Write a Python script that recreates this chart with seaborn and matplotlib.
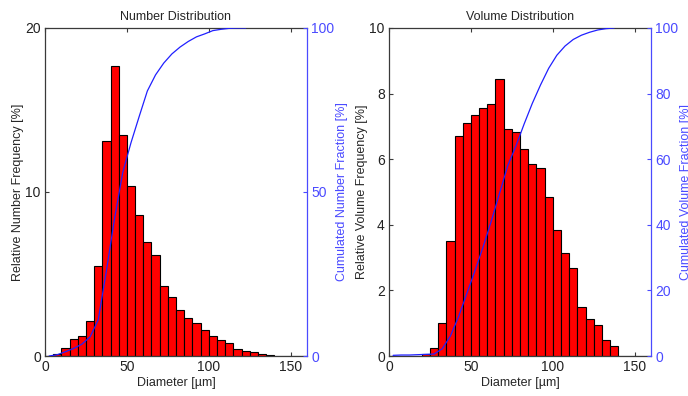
import numpy as np
import pandas as pd
import matplotlib
matplotlib.use("Agg")
import matplotlib.pyplot as plt
import seaborn as sns

# ---- data ----
bin_width = 5
# number distribution: bins [5,10] ... [135,140]
num_bin_start = list(range(5, 140, 5))
num_freq = [0.12, 0.47, 1.06, 1.24, 2.16, 5.51, 13.1, 17.66, 13.47, 10.34, 8.6,
            6.94, 6.16, 4.27, 3.58, 2.81, 2.3, 2.03, 1.59, 1.22, 0.98, 0.77,
            0.43, 0.33, 0.24, 0.12, 0.08]
num_cum_x = [2.5, 7.5, 12.5, 17.5, 22.5, 27.5, 32.5, 37.5, 42.5, 47.5, 52.5, 57.5,
             62.5, 67.5, 72.5, 77.5, 82.5, 87.5, 92.5, 97.5, 102.5, 107.5, 112.5,
             117.5, 122.5]
num_cum = [0.0, 0.4, 1.3, 2.3, 3.6, 5.8, 11.0, 26.0, 42.0, 56.0, 65.0, 73.0,
           80.8, 85.7, 89.3, 92.1, 94.2, 95.9, 97.3, 98.2, 99.2, 99.6, 99.9,
           100.0, 100.0]

# volume distribution: bins [20,25] ... [135,140]
vol_bin_start = list(range(20, 140, 5))
vol_freq = [0.06, 0.23, 1.0, 3.51, 6.72, 7.1, 7.34, 7.56, 7.67, 8.46, 6.93, 6.84,
            6.31, 5.84, 5.74, 4.86, 3.83, 3.15, 2.68, 1.5, 1.12, 0.95, 0.49, 0.31]
vol_cum_x = [2.5, 7.5, 12.5, 17.5, 22.5, 27.5, 32.5, 37.5, 42.5, 47.5, 52.5, 57.5,
             62.5, 67.5, 72.5, 77.5, 82.5, 87.5, 92.5, 97.5, 102.5, 107.5, 112.5,
             117.5, 122.5, 127.5, 132.5, 137.5]
vol_cum = [0.2, 0.3, 0.3, 0.4, 0.5, 0.6, 2.2, 6.1, 12.0, 19.0, 26.0, 33.3, 41.2,
           49.6, 58.0, 64.0, 70.7, 77.0, 82.6, 87.7, 91.7, 94.5, 96.5, 97.8, 98.7,
           99.4, 99.8, 100.0]

titles = ["Number Distribution", "Volume Distribution"]
left_labels = ["Relative Number Frequency [%]", "Relative Volume Frequency [%]"]
right_labels = ["Cumulated Number Fraction [%]", "Cumulated Volume Fraction [%]"]
xlabel = "Diameter [\u00b5m]"
x_ticks = [0, 50, 100, 150]
left_ticks = [[0, 10, 20], [0, 2, 4, 6, 8, 10]]
right_ticks = [[0, 50, 100], [0, 20, 40, 60, 80, 100]]

# ---- styling ----
sns.set_style("white")
plt.rcParams["font.family"] = ["Liberation Sans", "DejaVu Sans"]

fig = plt.figure(figsize=(6.88, 3.96), dpi=100)
positions = [[45 / 688, 40 / 396, 262 / 688, 328 / 396],
             [389 / 688, 40 / 396, 262 / 688, 328 / 396]]

datasets = [
    (num_bin_start, num_freq, num_cum_x, num_cum),
    (vol_bin_start, vol_freq, vol_cum_x, vol_cum),
]
line_blue = "#2020ff"
axis_blue = "#4a4aff"
spine_col = "#3a3a3a"
tick_fs = 10
label_fs = 9

for i, (starts, freq, cx, cy) in enumerate(datasets):
    ax = fig.add_axes(positions[i])
    df = pd.DataFrame({"d": np.array(starts, dtype=float) + bin_width / 2,
                       "f": np.array(freq, dtype=float)})
    sns.histplot(data=df, x="d", weights="f", binwidth=bin_width,
                 binrange=(0, 160), stat="count",
                 color="red", edgecolor="black", linewidth=0.8, alpha=1.0, ax=ax)
    ax.set_xlim(0, 160)
    ax.set_ylim(left_ticks[i][0], left_ticks[i][-1])
    ax.set_xticks(x_ticks)
    ax.set_yticks(left_ticks[i])
    ax.set_xlabel(xlabel, fontsize=label_fs, labelpad=2)
    ax.set_ylabel(left_labels[i], fontsize=label_fs, labelpad=1)
    ax.set_title(titles[i], fontsize=label_fs, pad=6)
    ax.tick_params(axis="both", direction="in", length=3, width=0.8,
                   labelsize=tick_fs, colors="black", pad=3)
    ax.tick_params(axis="both", colors=spine_col, labelcolor="#222222")
    ax.tick_params(axis="x", top=True, bottom=True)
    ax.tick_params(axis="y", left=True, right=False)
    for s in ax.spines.values():
        s.set_color(spine_col)
        s.set_linewidth(0.9)

    ax2 = ax.twinx()
    sns.lineplot(x=cx, y=cy, color=line_blue, linewidth=0.9, ax=ax2)
    ax2.set_ylim(0, 100)
    ax2.set_yticks(right_ticks[i])
    ax2.set_ylabel(right_labels[i], fontsize=label_fs, color=axis_blue, labelpad=1)
    ax2.tick_params(axis="y", direction="in", length=3, width=0.8,
                    labelsize=tick_fs, colors=axis_blue, pad=3)
    for name, s in ax2.spines.items():
        s.set_visible(name == "right")
    ax2.spines["right"].set_color(axis_blue)
    ax2.spines["right"].set_linewidth(0.9)
    ax.spines["right"].set_visible(False)
    ax2.set_xlim(0, 160)

fig.savefig("out.png", dpi=100)
